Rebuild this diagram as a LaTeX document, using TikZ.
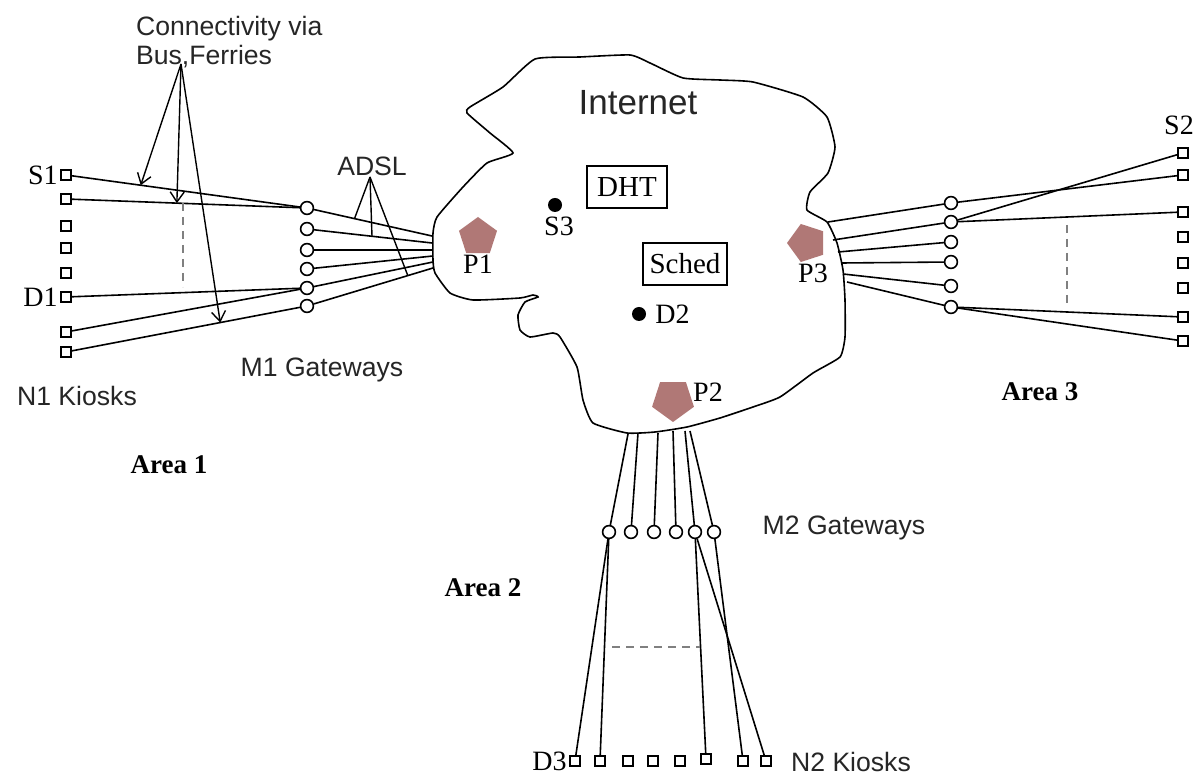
\documentclass[tikz,border=0pt]{standalone}
\usepackage{fontspec}
\setmainfont{Liberation Serif}
\newfontfamily\arialfont{Liberation Sans}
\usepackage{tikz}
\usetikzlibrary{positioning, shapes.geometric, arrows.meta, calc}
\definecolor{popbrown}{RGB}{176,120,118}

\begin{document}
\begin{tikzpicture}[x=0.5pt, y=-0.5pt,
                kiosk/.style={draw=black, thick, rectangle, minimum size=5.2pt, inner sep=0pt, fill=white},
                gateway/.style={draw=black, thick, circle, minimum size=6.4pt, inner sep=0pt, fill=white},
                pop/.style={regular polygon, regular polygon sides=5, fill=popbrown, inner sep=0pt, minimum size=20pt},
                host/.style={circle, fill=black, minimum size=7pt, inner sep=0pt},
                svcbox/.style={draw=black, thick, rectangle, minimum width=40pt, minimum height=21pt, font=\fontsize{14.5}{16}\selectfont},
                edge/.style={line width=0.8pt},
                hint/.style={line width=0.7pt},
                gap/.style={line width=0.9pt, gray, dash pattern=on 4pt off 3pt},
                varlabel/.style={font=\fontsize{14}{16}\selectfont, inner sep=1pt},
                poplabel/.style={font=\fontsize{14}{16}\selectfont},
                sanstext/.style={font=\arialfont\fontsize{13.3}{14.5}\selectfont, text=black!85},
                arealabel/.style={font=\bfseries\fontsize{13.5}{15}\selectfont}
            ]
            \path[use as bounding box, fill=white] (0,0) rectangle (1194,779);

            % Internet
            \draw[line width=0.8pt] plot[smooth cycle, tension=0.3] coordinates {
                (535,59) (580,57) (630,55) (650,63) (683,78) (720,80) (753,82) (803,97)
                (827,117) (835,147) (828,173) (810,192) (807,210) (827,222) (837,243)
                (843,270) (845,300) (845,337) (840,357) (813,373) (780,397) (753,407)
                (720,418) (687,427) (655,432) (627,433) (593,423) (583,400) (577,367)
                (560,337) (553,333) (530,337) (520,330) (518,315) (525,302) (538,297)
                (533,295) (520,298) (473,300) (450,293) (435,273) (433,260) (433,233)
                (437,217) (463,187) (487,163) (513,153) (490,133) (467,113) (470,107) (503,87)};
            \node[sanstext, font=\arialfont\fontsize{17.5}{19}\selectfont] (inet) at (638,103) {Internet};
            \node[svcbox] (dht) at (627,187) {DHT};
            \node[svcbox, minimum width=42pt] (sched) at (685,264) {Sched};
            \node[host] (s3) at (555,205) {};
            \node[poplabel, below=-1pt of s3, xshift=2pt] (s3l) {S3};
            \node[host] (d2) at (639,314) {};
            \node[poplabel, right=1pt of d2] (d2l) {D2};
            \node[pop, label={[poplabel, yshift=3pt]below:P1}] (p1) at (478,237) {};
            \node[pop, rotate=180, minimum size=22pt] (p2) at (673,400) {};
            \node[poplabel] (p2l) at (708,392) {P2};
            \node[pop, rotate=90] (p3) at (807,243) {};
            \node[poplabel] (p3l) at (813,273) {P3};

            % Area 1
            \node[kiosk, label={[varlabel]left:S1}] (ka1) at (66,175) {};
            \node[kiosk] (ka2) at (66,199) {};
            \node[kiosk] (ka3) at (66,226) {};
            \node[kiosk] (ka4) at (66,248) {};
            \node[kiosk] (ka5) at (66,273) {};
            \node[kiosk, label={[varlabel]left:D1}] (ka6) at (66,297) {};
            \node[kiosk] (ka7) at (66,332) {};
            \node[kiosk] (ka8) at (66,352) {};
            \node[gateway] (ga1) at (307,208) {};
            \node[gateway] (ga2) at (307,229) {};
            \node[gateway] (ga3) at (307,250) {};
            \node[gateway] (ga4) at (307,269) {};
            \node[gateway] (ga5) at (307,288) {};
            \node[gateway] (ga6) at (307,306) {};
            \coordinate (pa1) at (432,236);
            \coordinate (pa2) at (432,243);
            \coordinate (pa3) at (433,250);
            \coordinate (pa4) at (433,256);
            \coordinate (pa5) at (433,262);
            \coordinate (pa6) at (433,268);
            \draw[edge] (ka1) -- (ga1);
            \draw[edge] (ka2) -- (ga1);
            \draw[edge] (ka6) -- (ga5);
            \draw[edge] (ka7) -- (ga5);
            \draw[edge] (ka8) -- (ga6);
            \draw[edge] (ga1) -- (pa1);
            \draw[edge] (ga2) -- (pa2);
            \draw[edge] (ga3) -- (pa3);
            \draw[edge] (ga4) -- (pa4);
            \draw[edge] (ga5) -- (pa5);
            \draw[edge] (ga6) -- (pa6);
            \coordinate (gapa1) at (183,203);
            \coordinate (gapa2) at (183,287);
            \draw[gap] (gapa1) -- (gapa2);

            \node[sanstext, align=left, anchor=north west] (ferrytext) at (129,9) {Connectivity via\\Bus,Ferries};
            \coordinate (ferry) at (181,64);
            \draw[hint, -{Straight Barb[length=5pt, width=7pt]}] (ferry) -- ($(ka1)!0.31!(ga1)$);
            \draw[hint, -{Straight Barb[length=5pt, width=7pt]}] (ferry) -- ($(ka2)!0.46!(ga1)$);
            \draw[hint, -{Straight Barb[length=5pt, width=7pt]}] (ferry) -- ($(ka8)!0.64!(ga6)$);
            \node[sanstext] (adsltext) at (372,166) {ADSL};
            \coordinate (adsl) at (370,177);
            \draw[hint] (adsl) -- ($(ga1)!0.38!(pa1)$);
            \draw[hint] (adsl) -- ($(ga2)!0.52!(pa2)$);
            \draw[hint] (adsl) -- ($(ga6)!0.8!(pa6)$);
            \node[sanstext] (m1) at (322,370) {M1 Gateways};
            \node[sanstext] (n1) at (77,396) {N1 Kiosks};
            \node[arealabel] (area1) at (169,465) {Area 1};

            % Area 2
            \coordinate (pb1) at (628,434);
            \coordinate (pb2) at (638,433);
            \coordinate (pb3) at (658,433);
            \coordinate (pb4) at (673,431);
            \coordinate (pb5) at (685,431);
            \coordinate (pb6) at (690,431);
            \node[gateway] (gb1) at (609,532) {};
            \node[gateway] (gb2) at (631,532) {};
            \node[gateway] (gb3) at (654,532) {};
            \node[gateway] (gb4) at (676,532) {};
            \node[gateway] (gb5) at (695,532) {};
            \node[gateway] (gb6) at (714,532) {};
            \node[kiosk, label={[varlabel]left:D3}] (kb1) at (575,761) {};
            \node[kiosk] (kb2) at (600,761) {};
            \node[kiosk] (kb3) at (628,761) {};
            \node[kiosk] (kb4) at (653,761) {};
            \node[kiosk] (kb5) at (680,761) {};
            \node[kiosk] (kb6) at (706,759) {};
            \node[kiosk] (kb7) at (743,761) {};
            \node[kiosk] (kb8) at (766,761) {};
            \draw[edge] (pb1) -- (gb1);
            \draw[edge] (pb2) -- (gb2);
            \draw[edge] (pb3) -- (gb3);
            \draw[edge] (pb4) -- (gb4);
            \draw[edge] (pb5) -- (gb5);
            \draw[edge] (pb6) -- (gb6);
            \draw[edge] (gb1) -- (kb1);
            \draw[edge] (gb1) -- (kb2);
            \draw[edge] (gb5) -- (kb6);
            \draw[edge] (gb5) -- (kb8);
            \draw[edge] (gb6) -- (kb7);
            \coordinate (gapb1) at (612,647);
            \coordinate (gapb2) at (700,647);
            \draw[gap] (gapb1) -- (gapb2);
            \node[sanstext] (m2) at (844,528) {M2 Gateways};
            \node[sanstext] (n2) at (851,762) {N2 Kiosks};
            \node[arealabel] (area2) at (483,588) {Area 2};

            % Area 3
            \coordinate (pc1) at (828,222);
            \coordinate (pc2) at (833,240);
            \coordinate (pc3) at (838,252);
            \coordinate (pc4) at (842,263);
            \coordinate (pc5) at (843,274);
            \coordinate (pc6) at (847,282);
            \node[gateway] (gc1) at (951,203) {};
            \node[gateway] (gc2) at (951,222) {};
            \node[gateway] (gc3) at (951,242) {};
            \node[gateway] (gc4) at (951,262) {};
            \node[gateway] (gc5) at (951,286) {};
            \node[gateway] (gc6) at (951,307) {};
            \node[kiosk, label={[varlabel, yshift=5pt, xshift=-2pt]above:S2}] (kc1) at (1183,153) {};
            \node[kiosk] (kc2) at (1183,175) {};
            \node[kiosk] (kc3) at (1183,212) {};
            \node[kiosk] (kc4) at (1183,237) {};
            \node[kiosk] (kc5) at (1183,263) {};
            \node[kiosk] (kc6) at (1183,288) {};
            \node[kiosk] (kc7) at (1183,317) {};
            \node[kiosk] (kc8) at (1183,341) {};
            \draw[edge] (pc1) -- (gc1);
            \draw[edge] (pc2) -- (gc2);
            \draw[edge] (pc3) -- (gc3);
            \draw[edge] (pc4) -- (gc4);
            \draw[edge] (pc5) -- (gc5);
            \draw[edge] (pc6) -- (gc6);
            \draw[edge] (gc1) -- (kc2);
            \draw[edge] (gc2) -- (kc1);
            \draw[edge] (gc2) -- (kc3);
            \draw[edge] (gc6) -- (kc7);
            \draw[edge] (gc6) -- (kc8);
            \coordinate (gapc1) at (1067,225);
            \coordinate (gapc2) at (1067,305);
            \draw[gap] (gapc1) -- (gapc2);
            \node[arealabel] (area3) at (1040,392) {Area 3};

        \end{tikzpicture}
\end{document}
